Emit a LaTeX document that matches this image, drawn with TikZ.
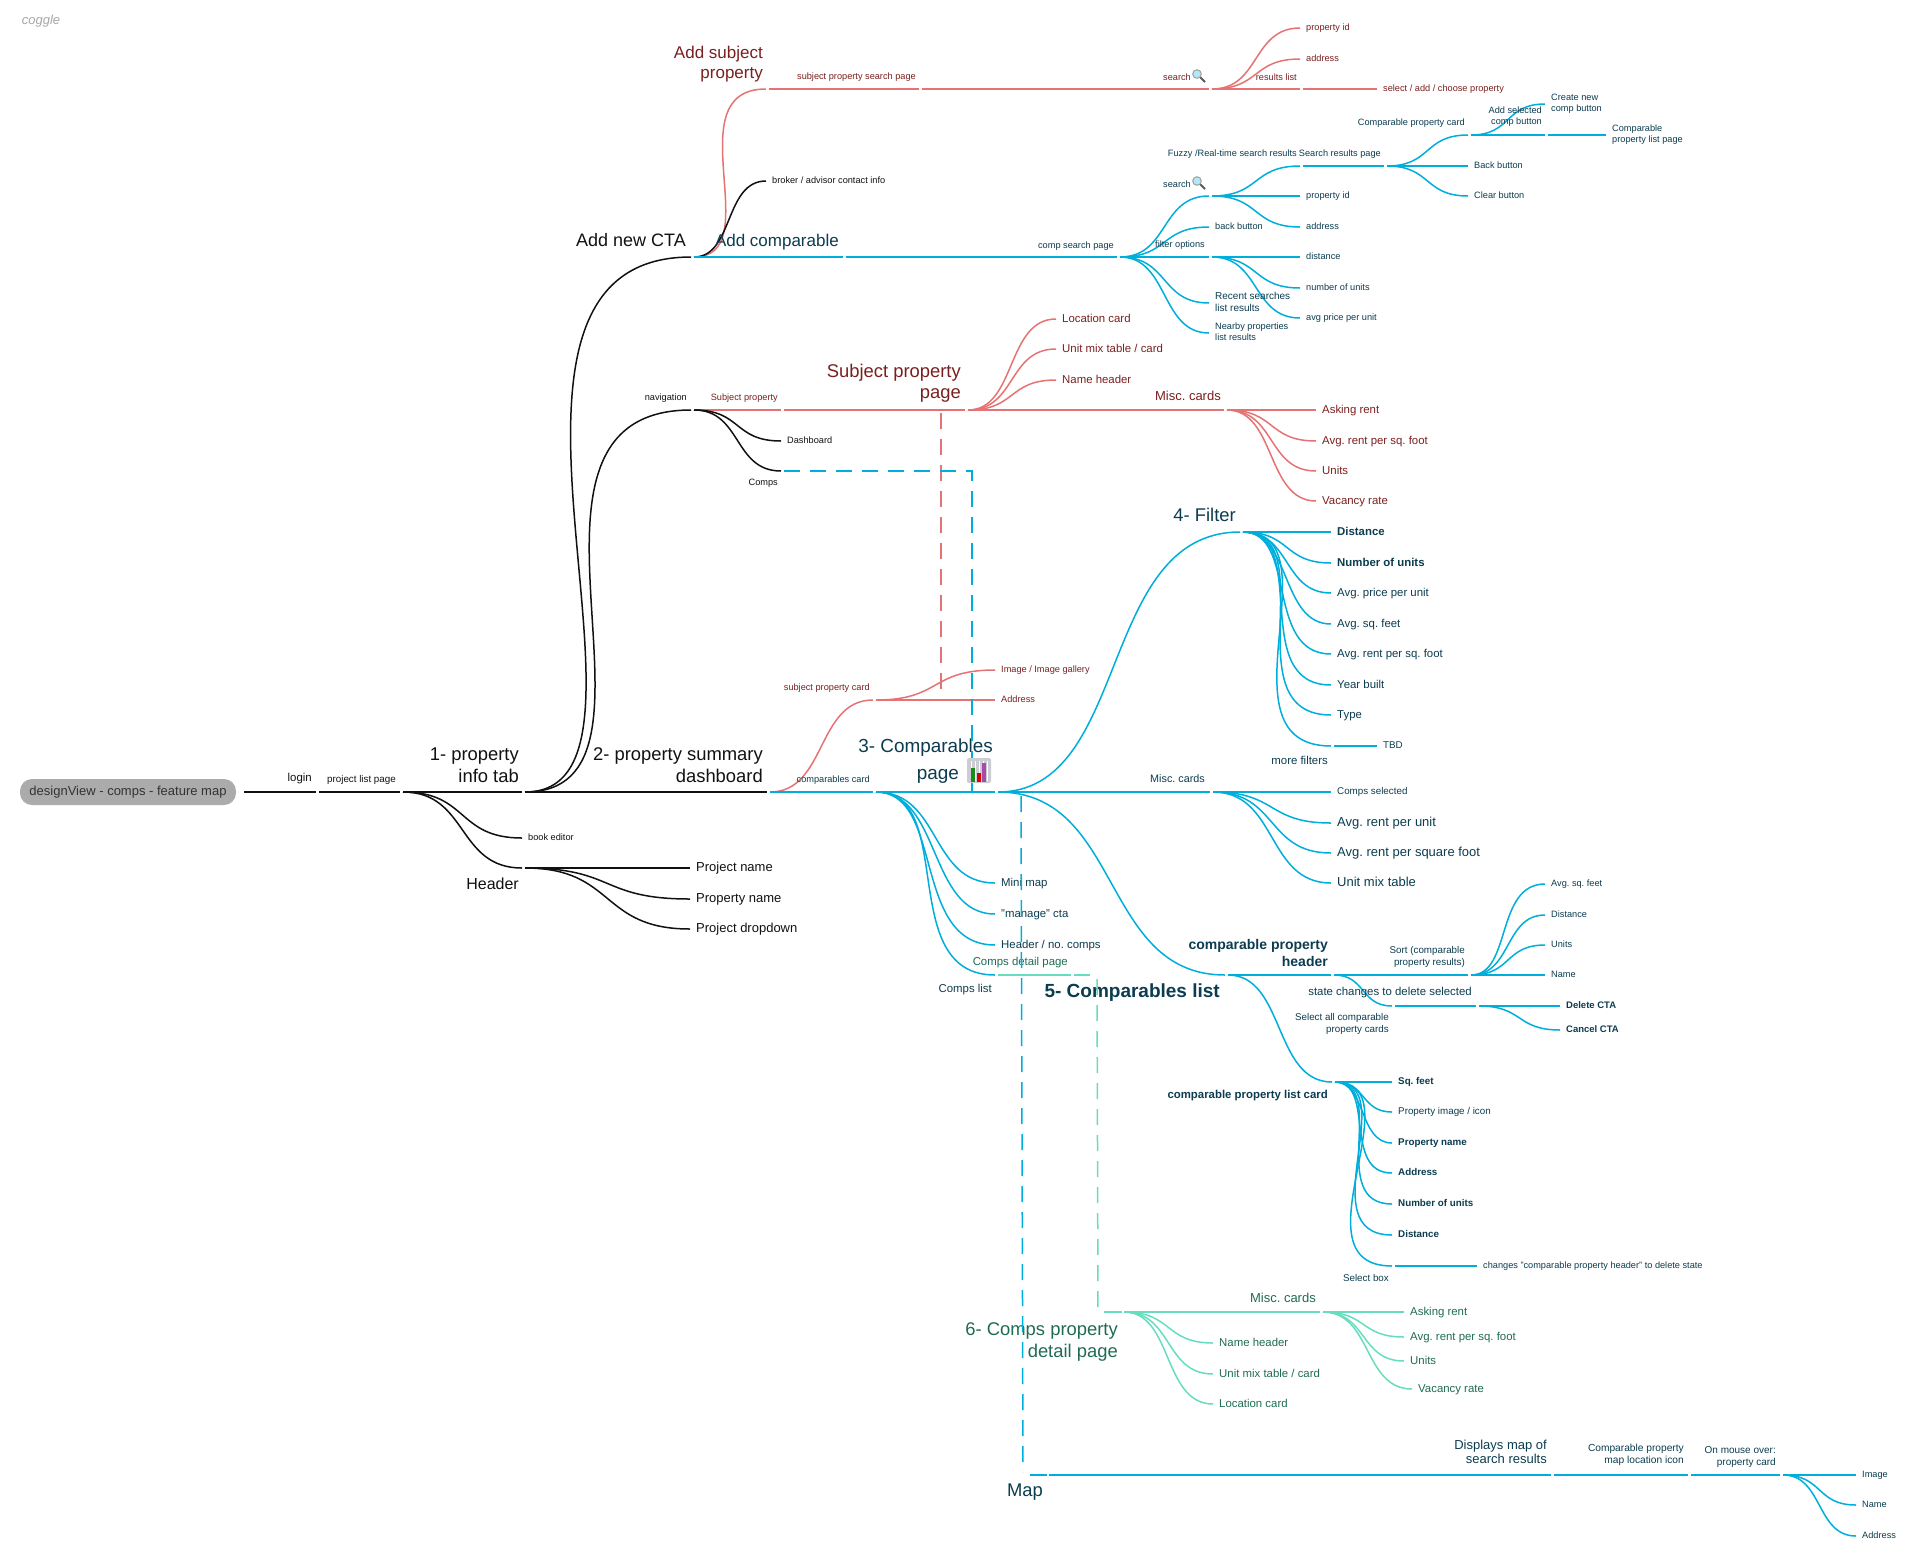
\documentclass[tikz,border=0pt]{standalone}
\usepackage{fontspec}
\setmainfont{Liberation Sans}
\frenchspacing
\usetikzlibrary{calc,positioning}
\definecolor{linkblack}{HTML}{111111}
\definecolor{linkred}{HTML}{E57373}
\definecolor{linkblue}{HTML}{00AEDB}
\definecolor{linkteal}{HTML}{66DDBF}
\definecolor{textblack}{HTML}{111111}
\definecolor{textred}{HTML}{7A1F1F}
\definecolor{textblue}{HTML}{0B3C4F}
\definecolor{textteal}{HTML}{1F6B55}
\tikzset{
    curvy/.style = {to path={let \p1=(\tikztostart),\p2=(\tikztotarget),
        \n1={max(.55*abs(\x2-\x1),.45*abs(\y2-\y1))},
        \n2={max(.55*abs(\x2-\x1),.55*abs(\y2-\y1))} in
        .. controls (\x1+\n1,\y1) and (\x2-\n2,\y2) .. (\p2)}},
    link/.style = {line width=1.5pt},
    black-link/.style = {link, draw=linkblack},
    red-link/.style = {link, draw=linkred},
    blue-link/.style = {link, draw=linkblue},
    teal-link/.style = {link, draw=linkteal},
    dash-link/.style = {dash pattern=on 16pt off 10pt},
    sz-s/.style = {font=\fontsize{9.2}{11.2}\selectfont},
    sz-t/.style = {font=\fontsize{9.8}{11.4}\selectfont},
    sz-m/.style = {font=\fontsize{11.4}{13}\selectfont},
    sz-n/.style = {font=\fontsize{13}{14.5}\selectfont},
    sz-l/.style = {font=\fontsize{17}{20.5}\selectfont},
    sz-x/.style = {font=\fontsize{18.4}{21.5}\selectfont},
    bf-s/.style = {font=\bfseries\fontsize{9.5}{11}\selectfont},
    bf-t/.style = {font=\bfseries\fontsize{9.8}{11}\selectfont},
    bf-m/.style = {font=\bfseries\fontsize{11.4}{13}\selectfont},
    lbl/.style = {inner sep=0pt, align=right, anchor=east},
    leaf/.style = {inner sep=0pt, align=left, anchor=west,
        execute at begin node={\rule{0pt}{.8em}}, execute at end node={\rule[-.26em]{0pt}{.26em}}},
    black-text/.style = {text=textblack},
    red-text/.style = {text=textred},
    blue-text/.style = {text=textblue},
    teal-text/.style = {text=textteal},
    root-box/.style = {fill=black!33, rounded corners=12pt, minimum width=216pt, minimum height=26pt, inner sep=0pt, text=black!80, font=\fontsize{13}{15}\selectfont},
    lens/.style = {fill=linkblue!30, draw=black!40, line width=0.9pt},
    lens-grip/.style = {draw=black!65, line width=2pt},
}
% one branch: colour, parent, name, end x, end y
\newcommand{\branch}[5]{%
  \coordinate (#3) at (#4,#5);
  \coordinate (#3-o) at (#4+3,#5);
  \draw[#1-link] (#2-o) to[curvy] (#3);
}
\begin{document}
\begin{tikzpicture}[x=1pt,y=-1pt]
\useasboundingbox (0,0) rectangle (1920,1567);

\node[text=black!35, font=\itshape\fontsize{13}{15}\selectfont] (logo) at (41,21) {coggle};

% root and main line
\node[root-box] (root) at (128,792) {designView - comps - feature map};
\coordinate (root-o) at (244,792);
\branch{black}{root}{login}{316}{792}
\branch{black}{login}{plist}{400}{792}
\branch{black}{plist}{info}{522}{792}
\branch{black}{plist}{book}{522}{838}
\branch{black}{plist}{header}{522}{868}
\branch{black}{header}{pname}{690}{868}
\branch{black}{header}{prname}{690}{899}
\branch{black}{header}{pdrop}{690}{929}
\branch{black}{info}{summary}{767}{792}
\node[lbl,black-text,sz-m] (login-t) at (312,779) {login};
\node[lbl,black-text,sz-t] (plist-t) at (396,780) {project list page};
\node[lbl,black-text,sz-x] (info-t) at (519,765) {1- property\\info tab};
\node[lbl,black-text,sz-x] (summary-t) at (763,765) {2- property summary\\dashboard};
\node[black-text,sz-s,leaf,right=6pt of book] (book-t) {book editor};
\node[lbl,black-text,font=\fontsize{16}{18}\selectfont] (header-t) at (519,884) {Header};
\node[black-text,sz-n,leaf,right=6pt of pname] (pname-t) {Project name};
\node[black-text,sz-n,leaf,right=6pt of prname] (prname-t) {Property name};
\node[black-text,sz-n,leaf,right=6pt of pdrop] (pdrop-t) {Project dropdown};

% add new cta
\coordinate (cta) at (691,257);
\coordinate (cta-o) at (694,257);
\draw[black-link] (info-o) .. controls (691,792) and (437,257) .. (cta);
\node[lbl,black-text,font=\fontsize{18}{21}\selectfont] (cta-t) at (686,240) {Add new CTA};
\branch{red}{cta}{addsub}{766}{89}
\branch{black}{cta}{broker}{766}{181}
\branch{blue}{cta}{addcomp}{843}{257}
\node[lbl,red-text,sz-l] (addsub-t) at (763,64) {Add subject\\property};
\node[black-text,sz-s,leaf,right=6pt of broker] (broker-t) {broker / advisor contact info};
\node[lbl,blue-text,sz-l] (addcomp-t) at (839,242) {Add comparable};
\branch{red}{addsub}{subsearch}{919}{89}
\branch{red}{subsearch}{rsearch}{1209}{89}
\branch{red}{rsearch}{rid}{1300}{28}
\branch{red}{rsearch}{raddr}{1300}{59}
\branch{red}{rsearch}{rlist}{1300}{89}
\branch{red}{rlist}{rselect}{1377}{89}
\node[lbl,red-text,sz-s] (subsearch-t) at (916,77) {subject property search page};
\node[lbl,red-text,sz-s] (rsearch-t) at (1191,77) {search};
\node[red-text,sz-s,leaf,right=6pt of rid] (rid-t) {property id};
\node[red-text,sz-s,leaf,right=6pt of raddr] (raddr-t) {address};
\node[lbl,red-text,sz-s] (rlist-t) at (1297,77) {results list};
\node[red-text,sz-s,leaf,right=6pt of rselect] (rselect-t) {select / add / choose property};

% comp search
\branch{blue}{addcomp}{compsearch}{1117}{257}
\branch{blue}{compsearch}{bsearch}{1209}{196}
\branch{blue}{compsearch}{bback}{1209}{227}
\branch{blue}{compsearch}{bfilter}{1209}{257}
\branch{blue}{compsearch}{brecent}{1209}{303}
\branch{blue}{compsearch}{bnear}{1209}{333}
\branch{blue}{bsearch}{bfuzzy}{1300}{166}
\branch{blue}{bsearch}{bid}{1300}{196}
\branch{blue}{bsearch}{baddr}{1300}{227}
\branch{blue}{bfilter}{bdist}{1300}{257}
\branch{blue}{bfilter}{bunits}{1300}{288}
\branch{blue}{bfilter}{bprice}{1300}{318}
\branch{blue}{bfuzzy}{bresult}{1384}{166}
\branch{blue}{bresult}{bcard}{1468}{135}
\branch{blue}{bresult}{bbackb}{1468}{166}
\branch{blue}{bresult}{bclear}{1468}{196}
\branch{blue}{bcard}{bsel}{1545}{135}
\branch{blue}{bcard}{bnew}{1545}{104}
\branch{blue}{bsel}{blistp}{1606}{135}
\node[lbl,blue-text,sz-s] (compsearch-t) at (1114,246) {comp search page};
\node[lbl,blue-text,sz-s] (bsearch-t) at (1191,184) {search};
\node[blue-text,sz-s,leaf,right=6pt of bback] (bback-t) {back button};
\node[lbl,blue-text,sz-s] (bfilter-t) at (1205,245) {filter options};
\node[blue-text,leaf,font=\fontsize{10}{12}\selectfont,right=6pt of brecent] (brecent-t) {Recent searches\\list results};
\node[blue-text,sz-s,leaf,right=6pt of bnear] (bnear-t) {Nearby properties\\list results};
\node[lbl,blue-text,sz-s] (bfuzzy-t) at (1297,154) {Fuzzy /Real-time search results};
\node[blue-text,sz-s,leaf,right=6pt of bid] (bid-t) {property id};
\node[blue-text,sz-s,leaf,right=6pt of baddr] (baddr-t) {address};
\node[blue-text,sz-s,leaf,right=6pt of bdist] (bdist-t) {distance};
\node[blue-text,sz-s,leaf,right=6pt of bunits] (bunits-t) {number of units};
\node[blue-text,sz-s,leaf,right=6pt of bprice] (bprice-t) {avg price per unit};
\node[lbl,blue-text,sz-s] (bresult-t) at (1381,154) {Search results page};
\node[lbl,blue-text,sz-s] (bcard-t) at (1465,123) {Comparable property card};
\node[blue-text,sz-s,leaf,right=6pt of bbackb] (bbackb-t) {Back button};
\node[blue-text,sz-s,leaf,right=6pt of bclear] (bclear-t) {Clear button};
\node[lbl,blue-text,sz-s] (bsel-t) at (1542,117) {Add selected\\comp button};
\node[blue-text,sz-s,leaf,right=6pt of bnew] (bnew-t) {Create new\\comp button};
\node[blue-text,sz-s,leaf,right=6pt of blistp] (blistp-t) {Comparable\\property list page};

% navigation
\coordinate (nav) at (691,410);
\coordinate (nav-o) at (694,410);
\draw[black-link] (info-o) .. controls (691,792) and (480,410) .. (nav);
\node[lbl,black-text,sz-s] (nav-t) at (687,398) {navigation};
\branch{red}{nav}{subprop}{781}{410}
\branch{black}{nav}{dash}{781}{441}
\branch{black}{nav}{comps}{781}{471}
\branch{red}{subprop}{subpage}{965}{410}
\branch{red}{subpage}{rloc}{1056}{319}
\branch{red}{subpage}{rmix}{1056}{349}
\branch{red}{subpage}{rname}{1056}{380}
\branch{red}{subpage}{rmisc}{1224}{410}
\branch{red}{rmisc}{rask}{1316}{410}
\branch{red}{rmisc}{ravg}{1316}{441}
\branch{red}{rmisc}{runits}{1316}{471}
\branch{red}{rmisc}{rvac}{1316}{501}
\node[lbl,red-text,sz-s] (subprop-t) at (778,398) {Subject property};
\node[black-text,sz-s,leaf,right=6pt of dash] (dash-t) {Dashboard};
\node[lbl,black-text,sz-s] (comps-t) at (778,483) {Comps};
\node[lbl,red-text,sz-x] (subpage-t) at (961,383) {Subject property\\page};
\node[red-text,sz-m,leaf,right=6pt of rloc] (rloc-t) {Location card};
\node[red-text,sz-m,leaf,right=6pt of rmix] (rmix-t) {Unit mix table / card};
\node[red-text,sz-m,leaf,right=6pt of rname] (rname-t) {Name header};
\node[lbl,red-text,sz-n] (rmisc-t) at (1221,396) {Misc. cards};
\node[red-text,sz-m,leaf,right=6pt of rask] (rask-t) {Asking rent};
\node[red-text,sz-m,leaf,right=6pt of ravg] (ravg-t) {Avg. rent per sq. foot};
\node[red-text,sz-m,leaf,right=6pt of runits] (runits-t) {Units};
\node[red-text,sz-m,leaf,right=6pt of rvac] (rvac-t) {Vacancy rate};

% summary children
\branch{red}{summary}{subcard}{873}{700}
\branch{blue}{summary}{compcard}{873}{792}
\branch{red}{subcard}{rimage}{995}{670}
\branch{red}{subcard}{raddress}{995}{700}
\branch{blue}{compcard}{page}{995}{792}
\branch{blue}{compcard}{mini}{995}{883}
\branch{blue}{compcard}{manage}{995}{914}
\branch{blue}{compcard}{hcomps}{995}{945}
\branch{blue}{compcard}{clist}{995}{975}
\node[lbl,red-text,sz-s] (subcard-t) at (870,688) {subject property card};
\node[lbl,blue-text,sz-s] (compcard-t) at (870,780) {comparables card};
\node[red-text,sz-s,leaf,right=6pt of rimage] (rimage-t) {Image / Image gallery};
\node[red-text,sz-s,leaf,right=6pt of raddress] (raddress-t) {Address};
\node[lbl,blue-text,font=\fontsize{18.9}{27}\selectfont] (page-t) at (993,761) {3- Comparables\\page\hspace*{34pt}};
\node[blue-text,sz-m,leaf,right=6pt of mini] (mini-t) {Mini map};
\node[blue-text,sz-m,leaf,right=6pt of manage] (manage-t) {"manage" cta};
\node[blue-text,sz-m,leaf,right=6pt of hcomps] (hcomps-t) {Header / no. comps};
\node[lbl,blue-text,sz-m] (clist-t) at (992,990) {Comps list};

% filter
\branch{blue}{page}{filter}{1240}{532}
\branch{blue}{filter}{fdist}{1331}{532}
\branch{blue}{filter}{funits}{1331}{563}
\branch{blue}{filter}{fprice}{1331}{593}
\branch{blue}{filter}{fsq}{1331}{624}
\branch{blue}{filter}{frent}{1331}{654}
\branch{blue}{filter}{fyear}{1331}{685}
\branch{blue}{filter}{ftype}{1331}{715}
\branch{blue}{filter}{fmore}{1331}{746}
\branch{blue}{fmore}{ftbd}{1377}{746}
\node[lbl,blue-text,sz-x] (filter-t) at (1236,515) {4- Filter};
\node[blue-text,bf-m,leaf,right=6pt of fdist] (fdist-t) {Distance};
\node[blue-text,bf-m,leaf,right=6pt of funits] (funits-t) {Number of units};
\node[blue-text,sz-m,leaf,right=6pt of fprice] (fprice-t) {Avg. price per unit};
\node[blue-text,sz-m,leaf,right=6pt of fsq] (fsq-t) {Avg. sq. feet};
\node[blue-text,sz-m,leaf,right=6pt of frent] (frent-t) {Avg. rent per sq. foot};
\node[blue-text,sz-m,leaf,right=6pt of fyear] (fyear-t) {Year built};
\node[blue-text,sz-m,leaf,right=6pt of ftype] (ftype-t) {Type};
\node[lbl,blue-text,sz-m] (fmore-t) at (1328,760) {more filters};
\node[blue-text,sz-t,leaf,right=6pt of ftbd] (ftbd-t) {TBD};

% misc cards
\branch{blue}{page}{bmisc}{1210}{792}
\branch{blue}{bmisc}{mcomps}{1331}{792}
\branch{blue}{bmisc}{mrent}{1331}{823}
\branch{blue}{bmisc}{msquare}{1331}{853}
\branch{blue}{bmisc}{mmix}{1331}{883}
\node[lbl,blue-text,font=\fontsize{10.8}{13}\selectfont] (bmisc-t) at (1205,779) {Misc. cards};
\node[blue-text,sz-t,leaf,right=6pt of mcomps] (mcomps-t) {Comps selected};
\node[blue-text,sz-n,leaf,right=6pt of mrent] (mrent-t) {Avg. rent per unit};
\node[blue-text,sz-n,leaf,right=6pt of msquare] (msquare-t) {Avg. rent per square foot};
\node[blue-text,sz-n,leaf,right=6pt of mmix] (mmix-t) {Unit mix table};

% comparables list
\branch{blue}{page}{clist5}{1225}{975}
\branch{blue}{clist5}{chead}{1331}{975}
\branch{blue}{clist5}{ccard}{1332}{1082}
\branch{blue}{chead}{sort}{1468}{975}
\branch{blue}{chead}{selall}{1392}{1006}
\branch{blue}{selall}{state}{1476}{1006}
\branch{blue}{state}{sdel}{1560}{1006}
\branch{blue}{state}{scan}{1560}{1030}
\branch{blue}{sort}{ssq}{1545}{884}
\branch{blue}{sort}{sdist}{1545}{915}
\branch{blue}{sort}{sunits}{1545}{945}
\branch{blue}{sort}{sname}{1545}{975}
\branch{blue}{ccard}{csq}{1392}{1082}
\branch{blue}{ccard}{cimg}{1392}{1112}
\branch{blue}{ccard}{cname}{1392}{1143}
\branch{blue}{ccard}{caddr}{1392}{1173}
\branch{blue}{ccard}{cunits}{1392}{1204}
\branch{blue}{ccard}{cdist}{1392}{1235}
\branch{blue}{ccard}{cbox}{1392}{1266}
\branch{blue}{cbox}{cchg}{1477}{1266}
\node[lbl,blue-text,font=\bfseries\fontsize{19}{22}\selectfont] (clist5-t) at (1220,993) {5- Comparables list};
\node[lbl,blue-text,font=\bfseries\fontsize{14}{16.5}\selectfont] (chead-t) at (1328,953) {comparable property\\header};
\node[lbl,blue-text,sz-t] (sort-t) at (1465,957) {Sort (comparable\\property results)};
\node[lbl,blue-text,sz-m] (state-t) at (1472,993) {state changes to delete selected};
\node[lbl,blue-text,sz-t] (selall-t) at (1389,1024) {Select all comparable\\property cards};
\node[lbl,blue-text,bf-m] (ccard-t) at (1328,1096) {comparable property list card};
\node[lbl,blue-text,sz-t] (cbox-t) at (1389,1278) {Select box};
\node[blue-text,bf-s,leaf,right=6pt of sdel] (sdel-t) {Delete CTA};
\node[blue-text,bf-s,leaf,right=6pt of scan] (scan-t) {Cancel CTA};
\node[blue-text,sz-s,leaf,right=6pt of ssq] (ssq-t) {Avg. sq. feet};
\node[blue-text,sz-s,leaf,right=6pt of sdist] (sdist-t) {Distance};
\node[blue-text,sz-s,leaf,right=6pt of sunits] (sunits-t) {Units};
\node[blue-text,sz-s,leaf,right=6pt of sname] (sname-t) {Name};
\node[blue-text,bf-t,leaf,right=6pt of csq] (csq-t) {Sq. feet};
\node[blue-text,sz-t,leaf,right=6pt of cimg] (cimg-t) {Property image / icon};
\node[blue-text,bf-t,leaf,right=6pt of cname] (cname-t) {Property name};
\node[blue-text,bf-t,leaf,right=6pt of caddr] (caddr-t) {Address};
\node[blue-text,bf-t,leaf,right=6pt of cunits] (cunits-t) {Number of units};
\node[blue-text,bf-t,leaf,right=6pt of cdist] (cdist-t) {Distance};
\node[blue-text,sz-s,leaf,right=6pt of cchg] (cchg-t) {changes "comparable property header" to delete state};

% comps detail page
\branch{teal}{clist}{cdetail}{1071}{975}
\branch{teal}{cdetail}{cdetail2}{1090}{975}
\node[lbl,teal-text,sz-m] (cdetail-t) at (1068,963) {Comps detail page};
\coordinate (detail-s) at (1097,979);
\coordinate (detail-a) at (1098,1312);
\coordinate (detail-b) at (1104,1312);
\coordinate (detail) at (1122,1312);
\coordinate (detail-o) at (1124,1312);
\draw[teal-link,dash-link] (detail-s) -- (detail-a);
\draw[teal-link] (detail-b) -- (detail);
\branch{teal}{detail}{tmisc}{1320}{1312}
\branch{teal}{detail}{tname}{1213}{1343}
\branch{teal}{detail}{tmix}{1213}{1374}
\branch{teal}{detail}{tloc}{1213}{1404}
\branch{teal}{tmisc}{task}{1404}{1312}
\branch{teal}{tmisc}{tavg}{1404}{1337}
\branch{teal}{tmisc}{tunits}{1404}{1361}
\branch{teal}{tmisc}{tvac}{1412}{1389}
\node[lbl,teal-text,sz-x] (detail-t) at (1118,1342) {6- Comps property\\detail page};
\node[lbl,teal-text,sz-n] (tmisc-t) at (1316,1298) {Misc. cards};
\node[teal-text,sz-m,leaf,right=6pt of tname] (tname-t) {Name header};
\node[teal-text,sz-m,leaf,right=6pt of tmix] (tmix-t) {Unit mix table / card};
\node[teal-text,sz-m,leaf,right=6pt of tloc] (tloc-t) {Location card};
\node[teal-text,sz-m,leaf,right=6pt of task] (task-t) {Asking rent};
\node[teal-text,sz-m,leaf,right=6pt of tavg] (tavg-t) {Avg. rent per sq. foot};
\node[teal-text,sz-m,leaf,right=6pt of tunits] (tunits-t) {Units};
\node[teal-text,sz-m,leaf,right=6pt of tvac] (tvac-t) {Vacancy rate};

% map
\coordinate (map-a) at (1021,796);
\coordinate (map-b) at (1023,1472);
\coordinate (map-c) at (1030,1475);
\coordinate (map) at (1047,1475);
\coordinate (map-o) at (1049,1475);
\draw[blue-link,dash-link] (map-a) -- (map-b);
\draw[blue-link] (map-c) -- (map);
\branch{blue}{map}{mapshow}{1551}{1475}
\branch{blue}{mapshow}{mapicon}{1688}{1475}
\branch{blue}{mapicon}{mapover}{1780}{1475}
\branch{blue}{mapover}{mimage}{1856}{1475}
\branch{blue}{mapover}{mname}{1856}{1505}
\branch{blue}{mapover}{maddr}{1856}{1536}
\node[lbl,blue-text,sz-x] (map-t) at (1043,1492) {Map};
\node[lbl,blue-text,sz-n] (mapshow-t) at (1547,1452) {Displays map of\\search results};
\node[lbl,blue-text,font=\fontsize{10.2}{12}\selectfont] (mapicon-t) at (1684,1455) {Comparable property\\map location icon};
\node[lbl,blue-text,font=\fontsize{10}{11.5}\selectfont] (mapover-t) at (1776,1457) {On mouse over:\\property card};
\node[blue-text,sz-s,leaf,right=6pt of mimage] (mimage-t) {Image};
\node[blue-text,sz-s,leaf,right=6pt of mname] (mname-t) {Name};
\node[blue-text,sz-s,leaf,right=6pt of maddr] (maddr-t) {Address};

% dashed cross links
\coordinate (subpage-d) at (941,413);
\coordinate (subcard-d) at (941,700);
\coordinate (page-d) at (972,792);
\draw[red-link,dash-link] (subpage-d) -- (subcard-d);
\draw[blue-link,dash-link] (comps-o) -| (page-d);

% icons
\foreach \px/\py in {1197/74, 1197/181} {
  \draw[lens-grip] (\px+3,\py+3) -- (\px+8,\py+8);
  \draw[lens] (\px,\py) circle (4.3pt);
}
\fill[blue!15!black!20, rounded corners=2pt] (967,758) rectangle (991,783);
\foreach \gx in {971,975,979,983,987} {
  \draw[white, line width=0.6pt] (\gx,761) -- (\gx,781);
}
\fill[green!50!black!90] (971,768) rectangle (975,782);
\fill[red!85!black] (977,773) rectangle (981,782);
\fill[violet!70] (982,763) rectangle (986,782);
\end{tikzpicture}
\end{document}
